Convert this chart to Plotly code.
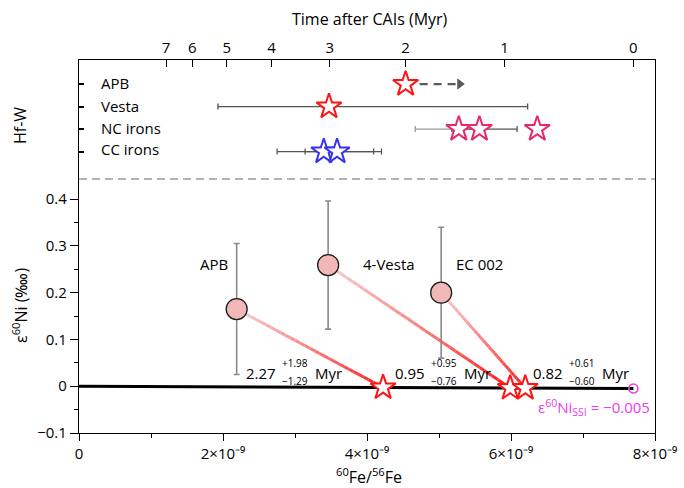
import numpy as np
import plotly.graph_objects as go

# ---------------- data ----------------
HALF_LIFE = 2.62                      # 60Fe half-life (Myr)
TAU = HALF_LIFE / np.log(2)
R0 = 7.7e-9                           # initial 60Fe/56Fe (SSI)
EPS_SSI = -0.005

samples = ["APB", "4-Vesta", "EC 002"]
fe_ratio = [2.19e-9, 3.46e-9, 5.03e-9]
eps_ni = [0.165, 0.259, 0.200]
eps_err = [0.140, 0.137, 0.140]
model_age = [2.27, 0.95, 0.82]
age_plus = [1.98, 0.95, 0.61]
age_minus = [1.29, 0.76, 0.60]

hfw_rows = ["APB", "Vesta", "NC irons", "CC irons"]
hfw_row_val = [4, 3, 2, 1]
apb_hfw_age = 2.00
apb_hfw_arrow_to = 1.42
vesta_hfw_age = 3.01
vesta_hfw_range = (5.23, 0.80)
nc_hfw_ages = [1.43, 1.23, 0.72]
nc_hfw_ranges = [(1.89, 1.23), (1.50, 0.89)]
cc_hfw_ages = [3.09, 2.89]
cc_hfw_ranges = [(3.89, 2.39), (3.39, 2.29)]

time_ticks = [0, 1, 2, 3, 4, 5, 6, 7]
ratio_ticks = [0, 2e-9, 4e-9, 6e-9, 8e-9]
ratio_labels = ["0", "2×10⁻⁹", "4×10⁻⁹", "6×10⁻⁹", "8×10⁻⁹"]
ratio_minor = [1e-9, 3e-9, 5e-9, 7e-9]
eps_ticks = [-0.1, 0, 0.1, 0.2, 0.3, 0.4]
eps_minor = [-0.05, 0.05, 0.15, 0.25, 0.35]

# ---------------- helpers ----------------
def t2x(t):
    return R0 * np.exp(-np.asarray(t, dtype=float) / TAU)

FONT = "Open Sans"
FS = 15
RED = "#FF1414"
NC_COL = "#E8286A"
CC_COL = "#3434F2"
MAG = "#E840E8"

# plot area in pixels
L, R, T, B = 79, 655, 60, 433
W, H = 684, 488
SPLIT = 179


def px(x):
    return (x - L) / (R - L)


def py(y):
    return (B - y) / (B - T)


split_paper = py(SPLIT)

fig = go.Figure()

# ---------------- lower panel ----------------
fig.add_trace(go.Scatter(x=[0, R0], y=[0, EPS_SSI], mode="lines",
                         line=dict(color="black", width=3), showlegend=False, hoverinfo="skip"))

star_x = t2x(model_age)
star_y = EPS_SSI * star_x / R0

c0 = np.array([247, 200, 200])
c1 = np.array([255, 24, 24])
nseg = 30
for i in range(len(samples)):
    xs = np.linspace(fe_ratio[i], star_x[i], nseg + 1)
    ys = np.linspace(eps_ni[i], star_y[i], nseg + 1)
    for k in range(nseg):
        f = (k + 0.5) / nseg
        c = c0 + (c1 - c0) * f ** 1.3
        fig.add_trace(go.Scatter(x=xs[k:k + 2], y=ys[k:k + 2], mode="lines",
                                 line=dict(color="rgb(%d,%d,%d)" % tuple(c.astype(int)), width=3),
                                 showlegend=False, hoverinfo="skip"))

fig.add_trace(go.Scatter(
    x=fe_ratio, y=eps_ni, mode="markers",
    marker=dict(size=21, color="#F2B8B8", line=dict(color="#1a1a1a", width=1.3)),
    error_y=dict(type="data", array=eps_err, color="#8a8a8a", thickness=1.6, width=3),
    showlegend=False, hoverinfo="skip"))

fig.add_trace(go.Scatter(
    x=star_x, y=star_y, mode="markers",
    marker=dict(symbol="star", size=19, color="white", line=dict(color=RED, width=2)),
    showlegend=False, hoverinfo="skip"))

fig.add_trace(go.Scatter(
    x=[R0], y=[EPS_SSI], mode="markers",
    marker=dict(symbol="circle-open", size=9, color=MAG, line=dict(width=1.6)),
    showlegend=False, hoverinfo="skip"))

# ---------------- upper panel (Hf-W) ----------------
def bar_trace(t, rng, row, color):
    xc = float(t2x(t))
    lo = float(t2x(rng[0]))
    hi = float(t2x(rng[1]))
    return go.Scatter(x=[xc], y=[row], xaxis="x2", yaxis="y2", mode="markers",
                      marker=dict(size=1, color="rgba(0,0,0,0)"),
                      error_x=dict(type="data", array=[hi - xc], arrayminus=[xc - lo],
                                   color=color, thickness=1.3, width=3),
                      showlegend=False, hoverinfo="skip")

fig.add_trace(bar_trace(vesta_hfw_age, vesta_hfw_range, hfw_row_val[1], "#555555"))
fig.add_trace(bar_trace(nc_hfw_ages[0], nc_hfw_ranges[0], hfw_row_val[2], "#9a9a9a"))
fig.add_trace(bar_trace(nc_hfw_ages[1], nc_hfw_ranges[1], hfw_row_val[2], "#555555"))
fig.add_trace(bar_trace(cc_hfw_ages[0], cc_hfw_ranges[0], hfw_row_val[3], "#555555"))
fig.add_trace(bar_trace(cc_hfw_ages[1], cc_hfw_ranges[1], hfw_row_val[3], "#555555"))

# APB dashed arrow
fig.add_trace(go.Scatter(x=t2x([apb_hfw_age, apb_hfw_arrow_to]), y=[hfw_row_val[0]] * 2,
                         xaxis="x2", yaxis="y2",
                         mode="lines", line=dict(color="#5a5a5a", width=2.2, dash="8px,6px"),
                         showlegend=False, hoverinfo="skip"))
fig.add_trace(go.Scatter(x=t2x([apb_hfw_arrow_to]), y=[hfw_row_val[0]], xaxis="x2", yaxis="y2",
                         mode="markers", marker=dict(symbol="triangle-right", size=10, color="#5a5a5a"),
                         showlegend=False, hoverinfo="skip"))

star_style = lambda col: dict(symbol="star", size=19, color="white", line=dict(color=col, width=2))
fig.add_trace(go.Scatter(x=t2x([apb_hfw_age]), y=[hfw_row_val[0]], xaxis="x2", yaxis="y2",
                         mode="markers", marker=star_style(RED), showlegend=False, hoverinfo="skip"))
fig.add_trace(go.Scatter(x=t2x([vesta_hfw_age]), y=[hfw_row_val[1]], xaxis="x2", yaxis="y2",
                         mode="markers", marker=star_style(RED), showlegend=False, hoverinfo="skip"))
fig.add_trace(go.Scatter(x=t2x(nc_hfw_ages), y=[hfw_row_val[2]] * len(nc_hfw_ages),
                         xaxis="x2", yaxis="y2", hoverinfo="skip",
                         mode="markers", marker=star_style(NC_COL), showlegend=False))
fig.add_trace(go.Scatter(x=t2x(cc_hfw_ages), y=[hfw_row_val[3]] * len(cc_hfw_ages),
                         xaxis="x2", yaxis="y2", hoverinfo="skip",
                         mode="markers", marker=star_style(CC_COL), showlegend=False))

# ---------------- annotations ----------------
ann = []
def add_text(text, x, y, xanchor="left", size=FS, color="black", angle=0, yanchor="middle"):
    ann.append(dict(text=text, x=px(x), y=py(y), xref="paper", yref="paper", showarrow=False,
                    xanchor=xanchor, yanchor=yanchor, textangle=angle,
                    font=dict(family=FONT, size=size, color=color)))

# sample labels
label_pos = [(198, 264), (361, 264), (454, 264)]
for name, (lx, ly) in zip(samples, label_pos):
    add_text(name, lx, ly)

# model ages
age_pos = [(279, 373), (428, 373), (566, 373)]
for a, p, m, (ax_, ay_) in zip(model_age, age_plus, age_minus, age_pos):
    add_text("%.2f" % a, ax_ - 1, ay_, xanchor="right")
    add_text("+%.2f" % p, ax_ + 1, ay_ - 10, size=10)
    add_text("−%.2f" % m, ax_ + 1, ay_ + 8, size=10)
    add_text("Myr", ax_ + 34, ay_)

add_text("ε<sup>60</sup>Ni<sub>SSI</sub> = −0.005", 652, 407, xanchor="right", color=MAG)

# Hf-W row labels
row_label_y = [83, 106, 128, 149]
for name, yy in zip(hfw_rows, row_label_y):
    add_text(name, 99, yy)

# titles
add_text("Time after CAIs (Myr)", 370, 19, xanchor="center", size=16)
add_text("<sup>60</sup>Fe/<sup>56</sup>Fe", 369, 476, xanchor="center", size=16)
add_text("ε<sup>60</sup>Ni (‱)", 20, 306, xanchor="center", size=16, angle=-90)
add_text("Hf-W", 20, 126, xanchor="center", size=16, angle=-90)

tickfont = dict(family=FONT, size=FS, color="black")

fig.update_layout(
    width=W, height=H,
    margin=dict(l=L, r=W - R, t=T, b=H - B, pad=0, autoexpand=False),
    paper_bgcolor="white", plot_bgcolor="white",
    font=dict(family=FONT, size=FS, color="black"),
    showlegend=False,
    xaxis=dict(range=[0, 8e-9], domain=[0, 1], anchor="y", automargin=False,
               tickmode="array", tickvals=ratio_ticks, ticktext=ratio_labels,
               ticks="outside", ticklen=7, tickwidth=1.2, tickcolor="black",
               minor=dict(tickmode="array", tickvals=ratio_minor, ticks="outside", ticklen=4,
                          tickwidth=1.2, tickcolor="black"),
               showline=True, linecolor="black", linewidth=1.2, mirror=False,
               showgrid=False, zeroline=False, tickfont=tickfont),
    xaxis2=dict(range=[0, 8e-9], domain=[0, 1], anchor="y2", side="top", automargin=False,
                tickmode="array", tickvals=list(t2x(time_ticks)), ticktext=[str(t) for t in time_ticks],
                ticks="inside", ticklen=7, tickwidth=1.2, tickcolor="black",
                showline=True, linecolor="black", linewidth=1.2, mirror=False,
                showgrid=False, zeroline=False, tickfont=tickfont),
    yaxis=dict(domain=[0, split_paper], range=[-0.1, 0.443], anchor="x", automargin=False,
               tickmode="array", tickvals=eps_ticks,
               ticks="outside", ticklen=8, tickwidth=1.2, tickcolor="black",
               minor=dict(tickmode="array", tickvals=eps_minor, ticks="outside", ticklen=4,
                          tickwidth=1.2, tickcolor="black"),
               showline=True, linecolor="black", linewidth=1.2, mirror=True,
               showgrid=False, zeroline=False, tickfont=tickfont),
    yaxis2=dict(domain=[split_paper, 1], range=[-0.22, 5.07], anchor="x2", automargin=False,
                tickmode="array", tickvals=hfw_row_val, showticklabels=False,
                ticks="inside", ticklen=5, tickwidth=1.5, tickcolor="black",
                showline=True, linecolor="black", linewidth=1.2, mirror=True,
                showgrid=False, zeroline=False),
    annotations=ann,
    shapes=[dict(type="line", xref="paper", yref="paper", x0=0, x1=1, y0=split_paper, y1=split_paper,
                 line=dict(color="#9a9a9a", width=1.5, dash="8px,5px"), layer="above")],
)

fig.write_html("out.html")
